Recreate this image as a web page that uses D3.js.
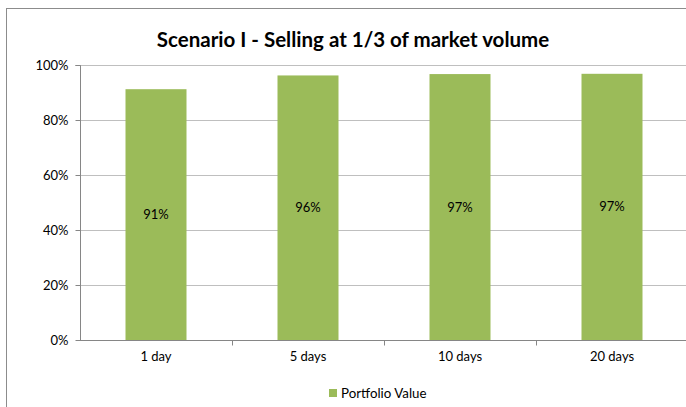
<!DOCTYPE html>
<html><head><meta charset="utf-8">
<script src="https://cdn.jsdelivr.net/npm/d3@7"></script>
<style>html,body{margin:0;padding:0;background:#fff;}svg{display:block;}</style>
</head><body>
<svg id="c" width="686" height="407"></svg>
<script>
const categories = ["1 day", "5 days", "10 days", "20 days"];
const portfolioValue = [0.912, 0.962, 0.967, 0.968];
const valueLabels = ["91%", "96%", "97%", "97%"];
const yTicks = [0, 0.2, 0.4, 0.6, 0.8, 1.0];
const seriesName = "Portfolio Value";
const titleText = "Scenario I - Selling at 1/3 of market volume";

(function () {
const svg = d3.select("#c");
const font = "Lato, 'Open Sans', sans-serif";
const green = "#9BBB59";

// chart frame
svg.append("rect").attr("x", 6.5).attr("y", 8.5).attr("width", 700).attr("height", 420)
  .attr("fill", "#fff").attr("stroke", "#8c8c8c").attr("stroke-width", 1);

const pLeft = 80, pRight = 688, pTop = 65, pBottom = 340;
const xb = d3.scaleBand().domain(categories).range([pLeft, pRight]);
const y = d3.scaleLinear().domain([0, 1]).range([pBottom, pTop]);

// gridlines
svg.append("g").selectAll("line").data(yTicks.filter(d => d > 0)).join("line")
  .attr("x1", pLeft).attr("x2", pRight)
  .attr("y1", d => Math.round(y(d)) + 0.5).attr("y2", d => Math.round(y(d)) + 0.5)
  .attr("stroke", "#bfbfbf").attr("stroke-width", 1);

// bars
svg.append("g").selectAll("rect").data(portfolioValue).join("rect")
  .attr("x", (d, i) => xb(categories[i]) + xb.bandwidth() / 2 - 30.5)
  .attr("width", 61)
  .attr("y", d => y(d)).attr("height", d => pBottom - y(d))
  .attr("fill", green);

// value labels
svg.append("g").selectAll("text").data(portfolioValue).join("text")
  .attr("x", (d, i) => xb(categories[i]) + xb.bandwidth() / 2)
  .attr("y", d => (y(d) + pBottom) / 2)
  .attr("dy", "0.35em").attr("text-anchor", "middle")
  .attr("font-family", font).attr("font-size", 13).attr("fill", "#000")
  .text((d, i) => valueLabels[i]);

// y axis
const yAxis = d3.axisLeft(y).tickValues(yTicks).tickFormat(d3.format(".0%")).tickSize(5).tickPadding(7);
const gy = svg.append("g").attr("transform", `translate(${pLeft + 0.5},0)`).call(yAxis);
gy.select(".domain").attr("stroke", "#868686").attr("d", `M-5,${pTop + 0.5}H0V${pBottom + 0.5}`);
gy.selectAll(".tick line").attr("stroke", "#868686");
gy.selectAll(".tick").attr("transform", d => `translate(0,${Math.round(y(d)) + 0.5})`);
gy.selectAll("text").attr("font-family", font).attr("font-size", 13).attr("fill", "#000");

// x axis
const gx = svg.append("g").attr("transform", `translate(0,${pBottom + 0.5})`);
gx.append("line").attr("x1", pLeft).attr("x2", pRight).attr("stroke", "#868686");
gx.selectAll("line.t").data(categories.slice(1)).join("line").attr("class", "t")
  .attr("x1", d => Math.round(xb(d)) + 0.5).attr("x2", d => Math.round(xb(d)) + 0.5)
  .attr("y1", 0).attr("y2", 5).attr("stroke", "#868686");
gx.selectAll("text").data(categories).join("text")
  .attr("x", d => xb(d) + xb.bandwidth() / 2).attr("y", 16).attr("dy", "0.35em")
  .attr("text-anchor", "middle").attr("font-family", font).attr("font-size", 13).attr("fill", "#000")
  .text(d => d);

// title
svg.append("text").attr("x", 353).attr("y", 40).attr("dy", "0.35em").attr("text-anchor", "middle")
  .attr("font-family", font).attr("font-weight", "bold").attr("font-size", 20.5).attr("fill", "#000")
  .text(titleText);

// legend
const lg = svg.append("g").attr("transform", "translate(329,393)");
lg.append("rect").attr("x", 0).attr("y", -4).attr("width", 8).attr("height", 8).attr("fill", green);
lg.append("text").attr("x", 12).attr("y", 0).attr("dy", "0.35em")
  .attr("font-family", font).attr("font-size", 13.3).attr("fill", "#000").text(seriesName);
})();
</script>
</body></html>
